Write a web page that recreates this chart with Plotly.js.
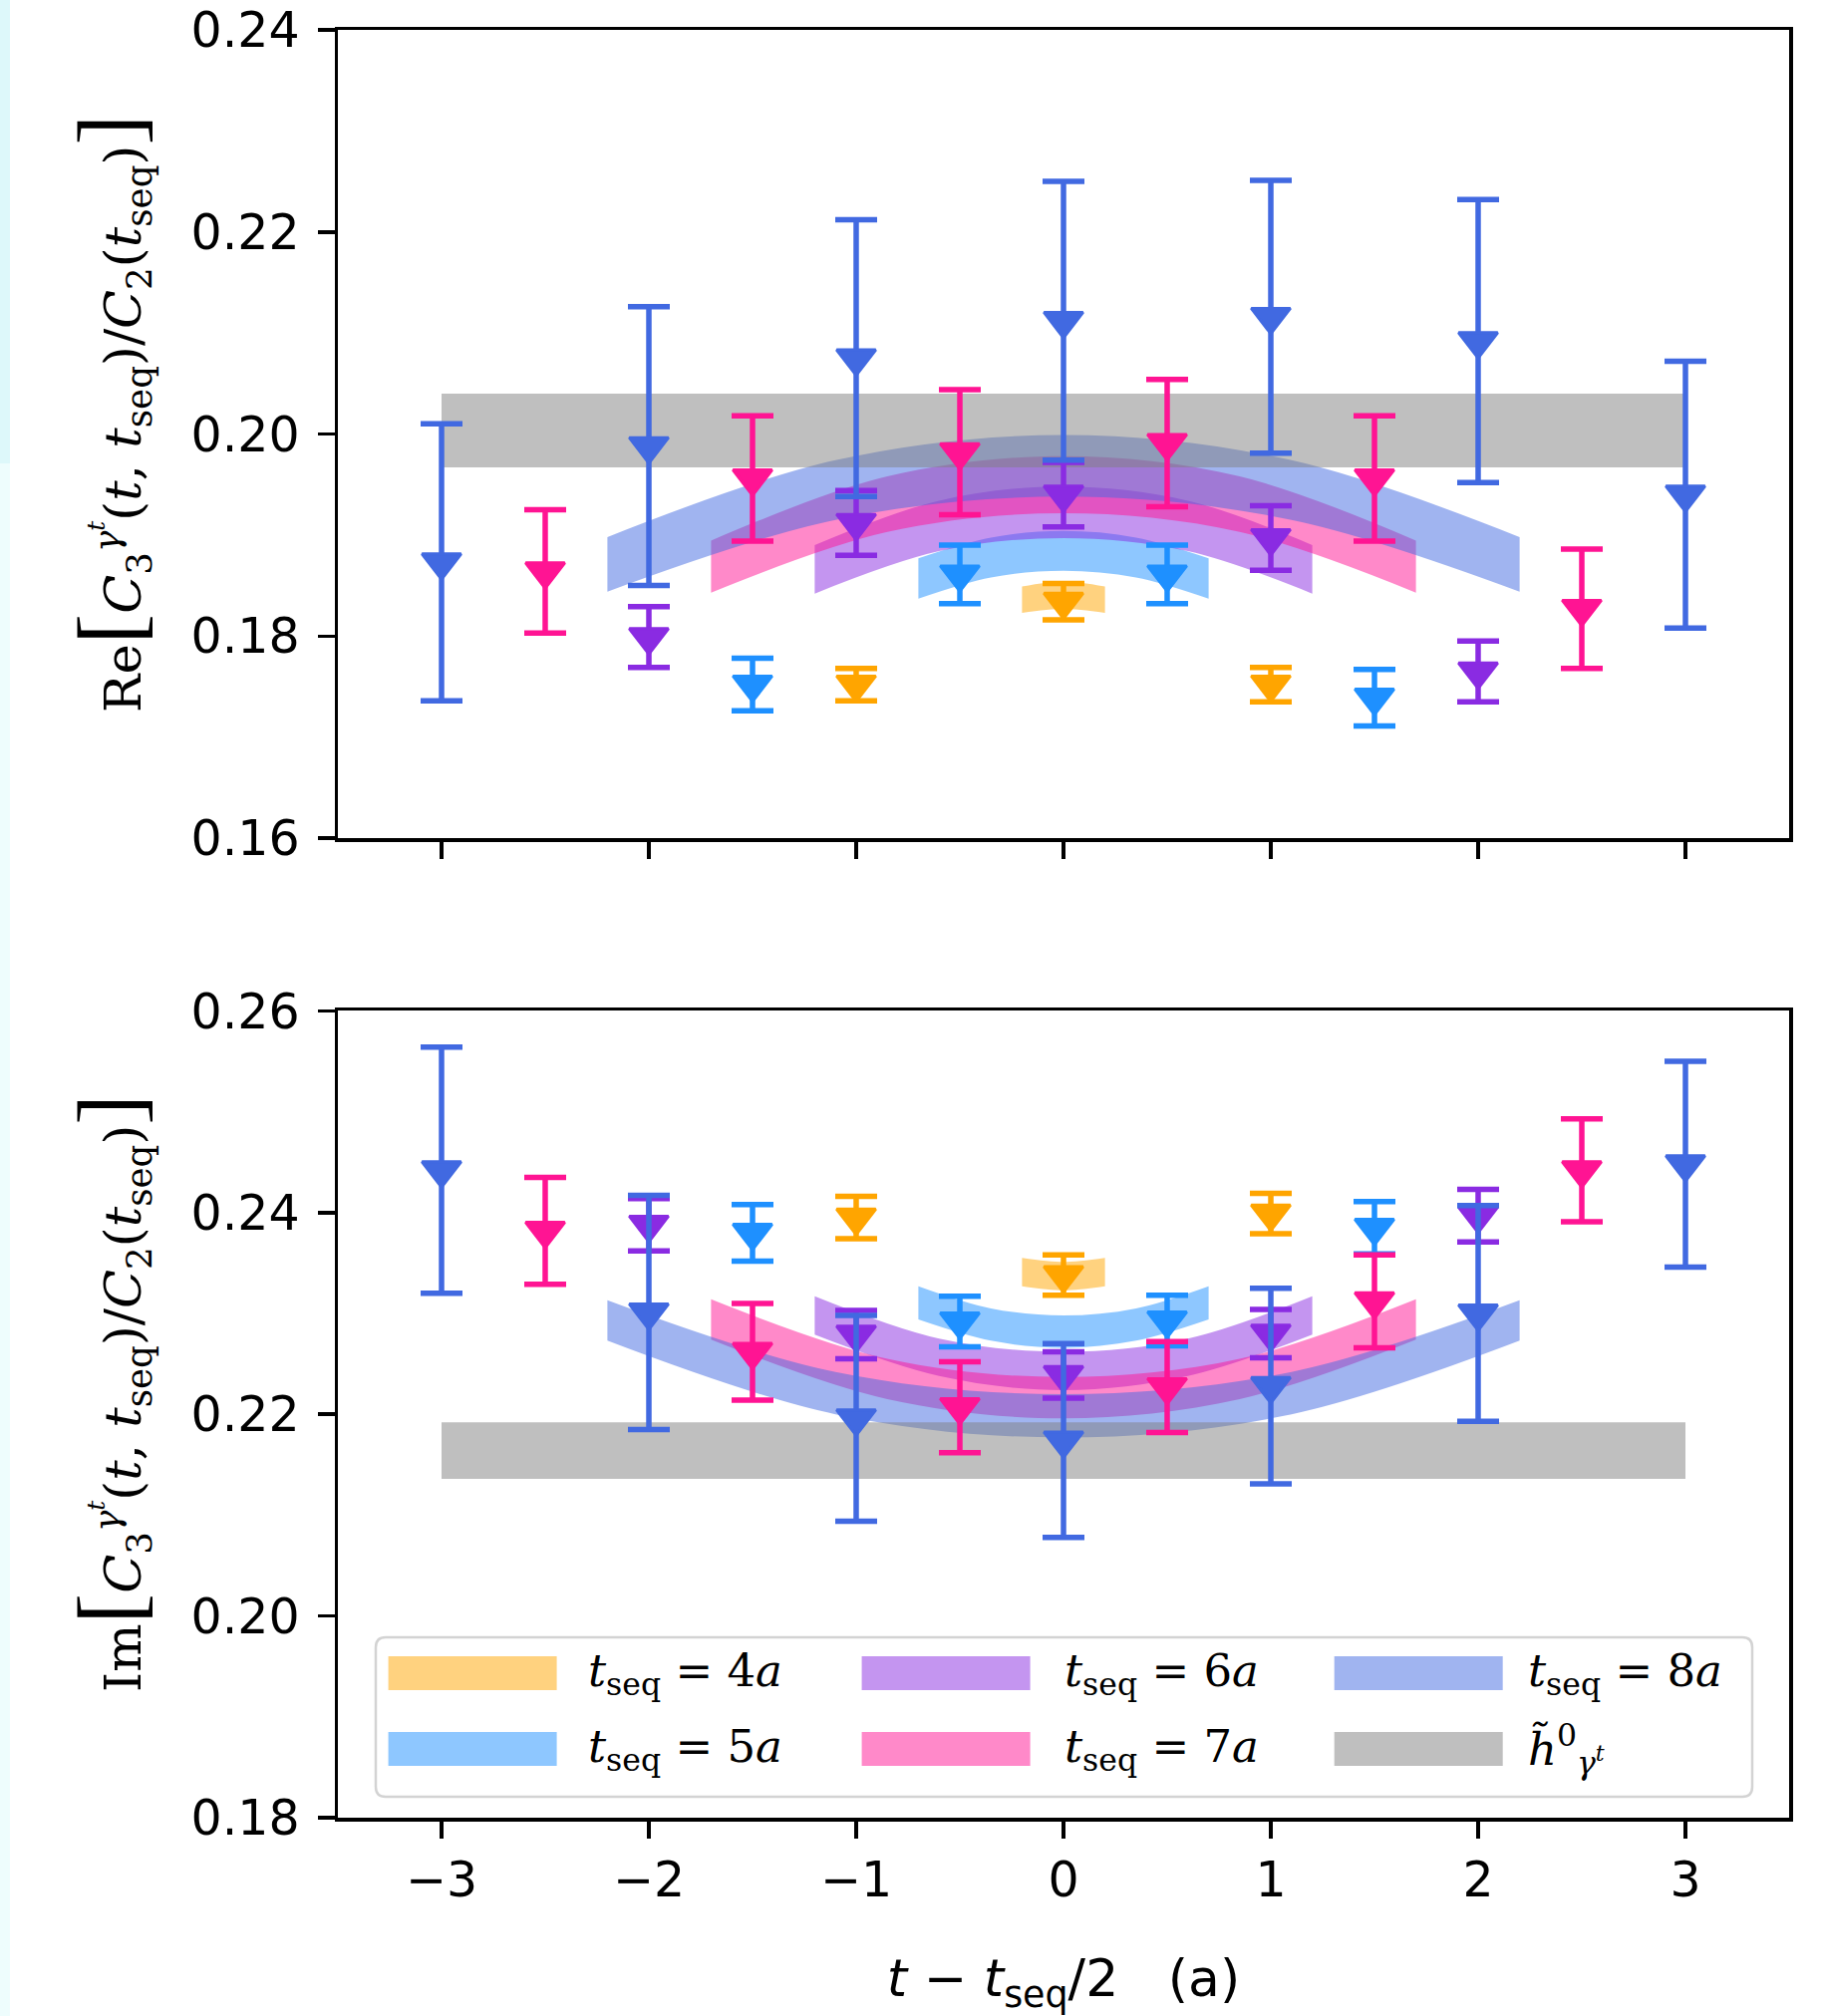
<!DOCTYPE html>
<html><head><meta charset="utf-8">
<script src="https://cdn.plot.ly/plotly-3.0.1.min.js"></script>
<style>html,body{margin:0;padding:0;background:#fff}</style>
</head><body><div id="chart" style="width:1828px;height:2023px"></div>
<script>
// ---------- data ----------
const xTicks = [-3, -2, -1, 0, 1, 2, 3];
const seqLabels = ['4a', '5a', '6a', '7a', '8a'];

const x4 = [-1, 0, 1];
const x5 = [-1.5, -0.5, 0.5, 1.5];
const x6 = [-2, -1, 0, 1, 2];
const x7 = [-2.5, -1.5, -0.5, 0.5, 1.5, 2.5];
const x8 = [-3, -2, -1, 0, 1, 2, 3];

// Re panel points
const re4 = [0.1752, 0.1834, 0.1752];
const re4Err = [0.0016, 0.0018, 0.0017];
const re5 = [0.1752, 0.1861, 0.1861, 0.1739];
const re5Err = [0.0026, 0.0029, 0.0029, 0.0028];
const re6 = [0.1799, 0.1912, 0.1940, 0.1897, 0.1765];
const re6Err = [0.0030, 0.0032, 0.0032, 0.0032, 0.0030];
const re7 = [0.1864, 0.1956, 0.1982, 0.1991, 0.1956, 0.1827];
const re7Err = [0.0061, 0.0062, 0.0062, 0.0063, 0.0062, 0.0059];
const re8 = [0.1873, 0.1988, 0.2075, 0.2112, 0.2116, 0.2092, 0.1940];
const re8Err = [0.0137, 0.0138, 0.0137, 0.0138, 0.0135, 0.0140, 0.0132];

// Im panel points
const im4 = [0.2395, 0.2338, 0.2399];
const im4Err = [0.0021, 0.0020, 0.0020];
const im5 = [0.2380, 0.2292, 0.2293, 0.2385];
const im5Err = [0.0028, 0.0025, 0.0025, 0.0026];
const im6 = [0.2388, 0.2279, 0.2239, 0.2280, 0.2397];
const im6Err = [0.0026, 0.0024, 0.0023, 0.0024, 0.0026];
const im7 = [0.2382, 0.2262, 0.2207, 0.2227, 0.2312, 0.2442];
const im7Err = [0.0053, 0.0048, 0.0045, 0.0045, 0.0046, 0.0051];
const im8 = [0.2442, 0.2301, 0.2196, 0.2174, 0.2228, 0.2300, 0.2448];
const im8Err = [0.0122, 0.0116, 0.0102, 0.0096, 0.0097, 0.0107, 0.0102];

const band4X = [-0.2, 0, 0.2];
const band5X = [-0.7, -0.35, 0, 0.35, 0.7];
const band6X = [-1.2, -0.6, 0, 0.6, 1.2];
const band7X = [-1.7, -0.85, 0, 0.85, 1.7];
const band8X = [-2.2, -1.1, 0, 1.1, 2.2];

const reBand4Up = [0.1849, 0.1854, 0.1849];
const reBand4Lo = [0.1823, 0.1827, 0.1823];
const reBand5Up = [0.1877, 0.18975, 0.1904, 0.18975, 0.1877];
const reBand5Lo = [0.1837, 0.1858, 0.18646, 0.1858, 0.1837];
const reBand6Up = [0.1890, 0.1934, 0.1948, 0.1934, 0.1890];
const reBand6Lo = [0.1842, 0.1884, 0.1897, 0.1884, 0.1842];
const reBand7Up = [0.18945, 0.1958, 0.1978, 0.1958, 0.18945];
const reBand7Lo = [0.1843, 0.1903, 0.19215, 0.1903, 0.1843];
const reBand8Up = [0.1898, 0.1974, 0.1999, 0.1974, 0.1898];
const reBand8Lo = [0.1844, 0.1915, 0.1938, 0.1915, 0.1844];

const imBand4Up = [0.2355, 0.2351, 0.2355];
const imBand4Lo = [0.2327, 0.2323, 0.2327];
const imBand5Up = [0.2327, 0.2305, 0.2298, 0.2305, 0.2327];
const imBand5Lo = [0.2294, 0.2273, 0.2266, 0.2273, 0.2294];
const imBand6Up = [0.2317, 0.2275, 0.2262, 0.2275, 0.2317];
const imBand6Lo = [0.2279, 0.2238, 0.2224, 0.2238, 0.2279];
const imBand7Up = [0.2314, 0.2255, 0.2237, 0.2255, 0.2314];
const imBand7Lo = [0.2274, 0.2215, 0.2196, 0.2215, 0.2274];
const imBand8Up = [0.2313, 0.2242, 0.2220, 0.2242, 0.2313];
const imBand8Lo = [0.2273, 0.2200, 0.2177, 0.2200, 0.2273];

// ground-state estimate h~0
const hX = [-3, 3];
const reH0Up = [0.2040, 0.2040];
const reH0Lo = [0.1967, 0.1967];
const imH0Up = [0.2192, 0.2192];
const imH0Lo = [0.2136, 0.2136];

// ---------- styles ----------
const solid = ['#FFA500', '#1E90FF', '#8A2BE2', '#FF1493', '#4169E1'];
const soft = ['rgba(255,165,0,0.5)', 'rgba(30,144,255,0.5)', 'rgba(138,43,226,0.5)',
              'rgba(255,20,147,0.5)', 'rgba(65,105,225,0.5)'];
const grayFill = 'rgba(128,128,128,0.5)';

function band(xs, up, lo, color, xa, ya, shape) {
  return [
    {x: xs, y: lo, mode: 'lines', line: {width: 0, shape: shape, color: 'rgba(0,0,0,0)'},
     xaxis: xa, yaxis: ya, hoverinfo: 'skip', showlegend: false},
    {x: xs, y: up, mode: 'lines', line: {width: 0, shape: shape, color: 'rgba(0,0,0,0)'},
     fill: 'tonexty', fillcolor: color, xaxis: xa, yaxis: ya, hoverinfo: 'skip', showlegend: false}
  ];
}
function pts(xs, ys, err, color, xa, ya) {
  return {x: xs, y: ys, mode: 'markers', xaxis: xa, yaxis: ya, showlegend: false,
    marker: {symbol: 'triangle-down', size: 34, color: color, line: {width: 3, color: color}},
    error_y: {type: 'data', array: err, visible: true, color: color, thickness: 5.5, width: 21}};
}

const bandX = [band4X, band5X, band6X, band7X, band8X];
const reUp = [reBand4Up, reBand5Up, reBand6Up, reBand7Up, reBand8Up];
const reLo = [reBand4Lo, reBand5Lo, reBand6Lo, reBand7Lo, reBand8Lo];
const imUp = [imBand4Up, imBand5Up, imBand6Up, imBand7Up, imBand8Up];
const imLo = [imBand4Lo, imBand5Lo, imBand6Lo, imBand7Lo, imBand8Lo];
const ptX = [x4, x5, x6, x7, x8];
const reY = [re4, re5, re6, re7, re8];
const reE = [re4Err, re5Err, re6Err, re7Err, re8Err];
const imY = [im4, im5, im6, im7, im8];
const imE = [im4Err, im5Err, im6Err, im7Err, im8Err];

let traces = [];
for (let i = 0; i < 5; i++) traces = traces.concat(band(bandX[i], reUp[i], reLo[i], soft[i], 'x2', 'y2', 'spline'));
traces = traces.concat(band(hX, reH0Up, reH0Lo, grayFill, 'x2', 'y2', 'linear'));
for (let i = 0; i < 5; i++) traces.push(pts(ptX[i], reY[i], reE[i], solid[i], 'x2', 'y2'));
for (let i = 0; i < 5; i++) traces = traces.concat(band(bandX[i], imUp[i], imLo[i], soft[i], 'x', 'y', 'spline'));
traces = traces.concat(band(hX, imH0Up, imH0Lo, grayFill, 'x', 'y', 'linear'));
for (let i = 0; i < 5; i++) traces.push(pts(ptX[i], imY[i], imE[i], solid[i], 'x', 'y'));

// ---------- layout ----------
const ML = 339, MR = 33, MT = 30, MB = 199, FW = 1828, FH = 2023;
const PW = FW - ML - MR, PH = FH - MT - MB;
const px = v => (v - ML) / PW;
const py = v => (FH - MB - v) / PH;

const axisCommon = {
  showline: true, mirror: true, linecolor: 'black', linewidth: 3.5,
  ticks: 'outside', ticklen: 17, tickwidth: 3.5, tickcolor: 'black',
  showgrid: false, zeroline: false,
  tickfont: {family: 'DejaVu Sans', size: 49, color: 'black'}
};
const big = s => '<span style="font-family:Liberation Serif;font-size:92px">' + s + '</span>';
const ratio = '<i>C</i><sub>3</sub><sup><i>γ</i><sup><i>t</i></sup></sup>(<i>t</i>, <i>t</i><sub>seq</sub>)/<i>C</i><sub>2</sub>(<i>t</i><sub>seq</sub>)';
const titleFont = {family: 'DejaVu Serif', size: 51, color: 'black'};

const legendTexts = seqLabels.map(s => '<i>t</i><sub>seq</sub> = ' + s.slice(0, 1) + '<i>' + s.slice(1) + '</i>');
const hLabel = '<i>h̃</i><sup>0</sup><sub><i>γ</i><sup><i>t</i></sup></sub>';

// manual legend (ncol = 3, column-wise)
const colPatchX = [389.6, 864.6, 1338.7];
const colTextX = [588, 1066, 1531];
const rowY = [1679, 1755];
const patchW = 169, patchH = 34;
const legendEntries = [
  {c: 0, r: 0, fill: soft[0], text: legendTexts[0]},
  {c: 0, r: 1, fill: soft[1], text: legendTexts[1]},
  {c: 1, r: 0, fill: soft[2], text: legendTexts[2]},
  {c: 1, r: 1, fill: soft[3], text: legendTexts[3]},
  {c: 2, r: 0, fill: soft[4], text: legendTexts[4]},
  {c: 2, r: 1, fill: grayFill, text: hLabel}
];
function roundRect(x0, y0, x1, y1, r) {
  const P = (a, b) => px(a) + ',' + py(b);
  return 'M' + P(x0 + r, y0) + ' L' + P(x1 - r, y0) + ' Q' + P(x1, y0) + ' ' + P(x1, y0 + r) +
    ' L' + P(x1, y1 - r) + ' Q' + P(x1, y1) + ' ' + P(x1 - r, y1) +
    ' L' + P(x0 + r, y1) + ' Q' + P(x0, y1) + ' ' + P(x0, y1 - r) +
    ' L' + P(x0, y0 + r) + ' Q' + P(x0, y0) + ' ' + P(x0 + r, y0) + ' Z';
}
const shapes = [
  {type: 'rect', xref: 'paper', yref: 'paper', x0: px(0), x1: px(10), y0: py(0), y1: py(465),
   fillcolor: '#DDF8FA', line: {width: 0}, layer: 'below'},
  {type: 'rect', xref: 'paper', yref: 'paper', x0: px(0), x1: px(10), y0: py(465), y1: py(FH),
   fillcolor: '#EEFDFD', line: {width: 0}, layer: 'below'},
  {type: 'path', xref: 'paper', yref: 'paper', path: roundRect(377, 1643, 1758, 1803, 10),
   fillcolor: 'rgba(255,255,255,0.85)', line: {color: '#D3D3D3', width: 2.5}, layer: 'above'}
];
const annotations = [];
legendEntries.forEach(e => {
  const x0 = colPatchX[e.c], yc = rowY[e.r];
  shapes.push({type: 'rect', xref: 'paper', yref: 'paper', x0: px(x0), x1: px(x0 + patchW),
    y0: py(yc + patchH / 2), y1: py(yc - patchH / 2), fillcolor: e.fill, line: {width: 0}, layer: 'above'});
  annotations.push({xref: 'paper', yref: 'paper', x: px(colTextX[e.c]), y: py(yc), xanchor: 'left', yanchor: 'middle',
    showarrow: false, text: e.text, font: {family: 'DejaVu Serif', size: 45, color: 'black'}});
});
// y-axis titles placed as rotated annotations
annotations.push({xref: 'paper', yref: 'paper', x: px(110), y: py(415), xanchor: 'center', yanchor: 'middle',
  textangle: -90, showarrow: false, text: 'Re' + big('[') + ratio + big(']'), font: titleFont});
annotations.push({xref: 'paper', yref: 'paper', x: px(110), y: py(1398), xanchor: 'center', yanchor: 'middle',
  textangle: -90, showarrow: false, text: 'Im' + big('[') + ratio + big(']'), font: titleFont});

const layout = {
  width: FW, height: FH, margin: {l: ML, r: MR, t: MT, b: MB},
  paper_bgcolor: 'white', plot_bgcolor: 'white', showlegend: false,
  xaxis: Object.assign({}, axisCommon, {
    range: [-3.5, 3.5], tickvals: xTicks, anchor: 'y',
    title: {text: '<i>t</i>\u00A0−\u00A0<i>t</i><sub>seq</sub>/2\u00A0\u00A0\u00A0(a)', font: {family: 'DejaVu Sans', size: 52, color: 'black'}, standoff: 57}
  }),
  xaxis2: Object.assign({}, axisCommon, {
    range: [-3.5, 3.5], tickvals: xTicks, anchor: 'y2', matches: 'x', showticklabels: false
  }),
  yaxis: Object.assign({}, axisCommon, {
    domain: [0, py(1014.4)], range: [0.18, 0.26], tick0: 0.18, dtick: 0.02, tickformat: '.2f', anchor: 'x',
    ticklabelstandoff: 8
  }),
  yaxis2: Object.assign({}, axisCommon, {
    domain: [py(841), 1], range: [0.16, 0.24], tick0: 0.16, dtick: 0.02, tickformat: '.2f', anchor: 'x2',
    ticklabelstandoff: 8
  }),
  shapes: shapes, annotations: annotations
};

Plotly.newPlot('chart', traces, layout, {staticPlot: true, displayModeBar: false});
</script></body></html>
